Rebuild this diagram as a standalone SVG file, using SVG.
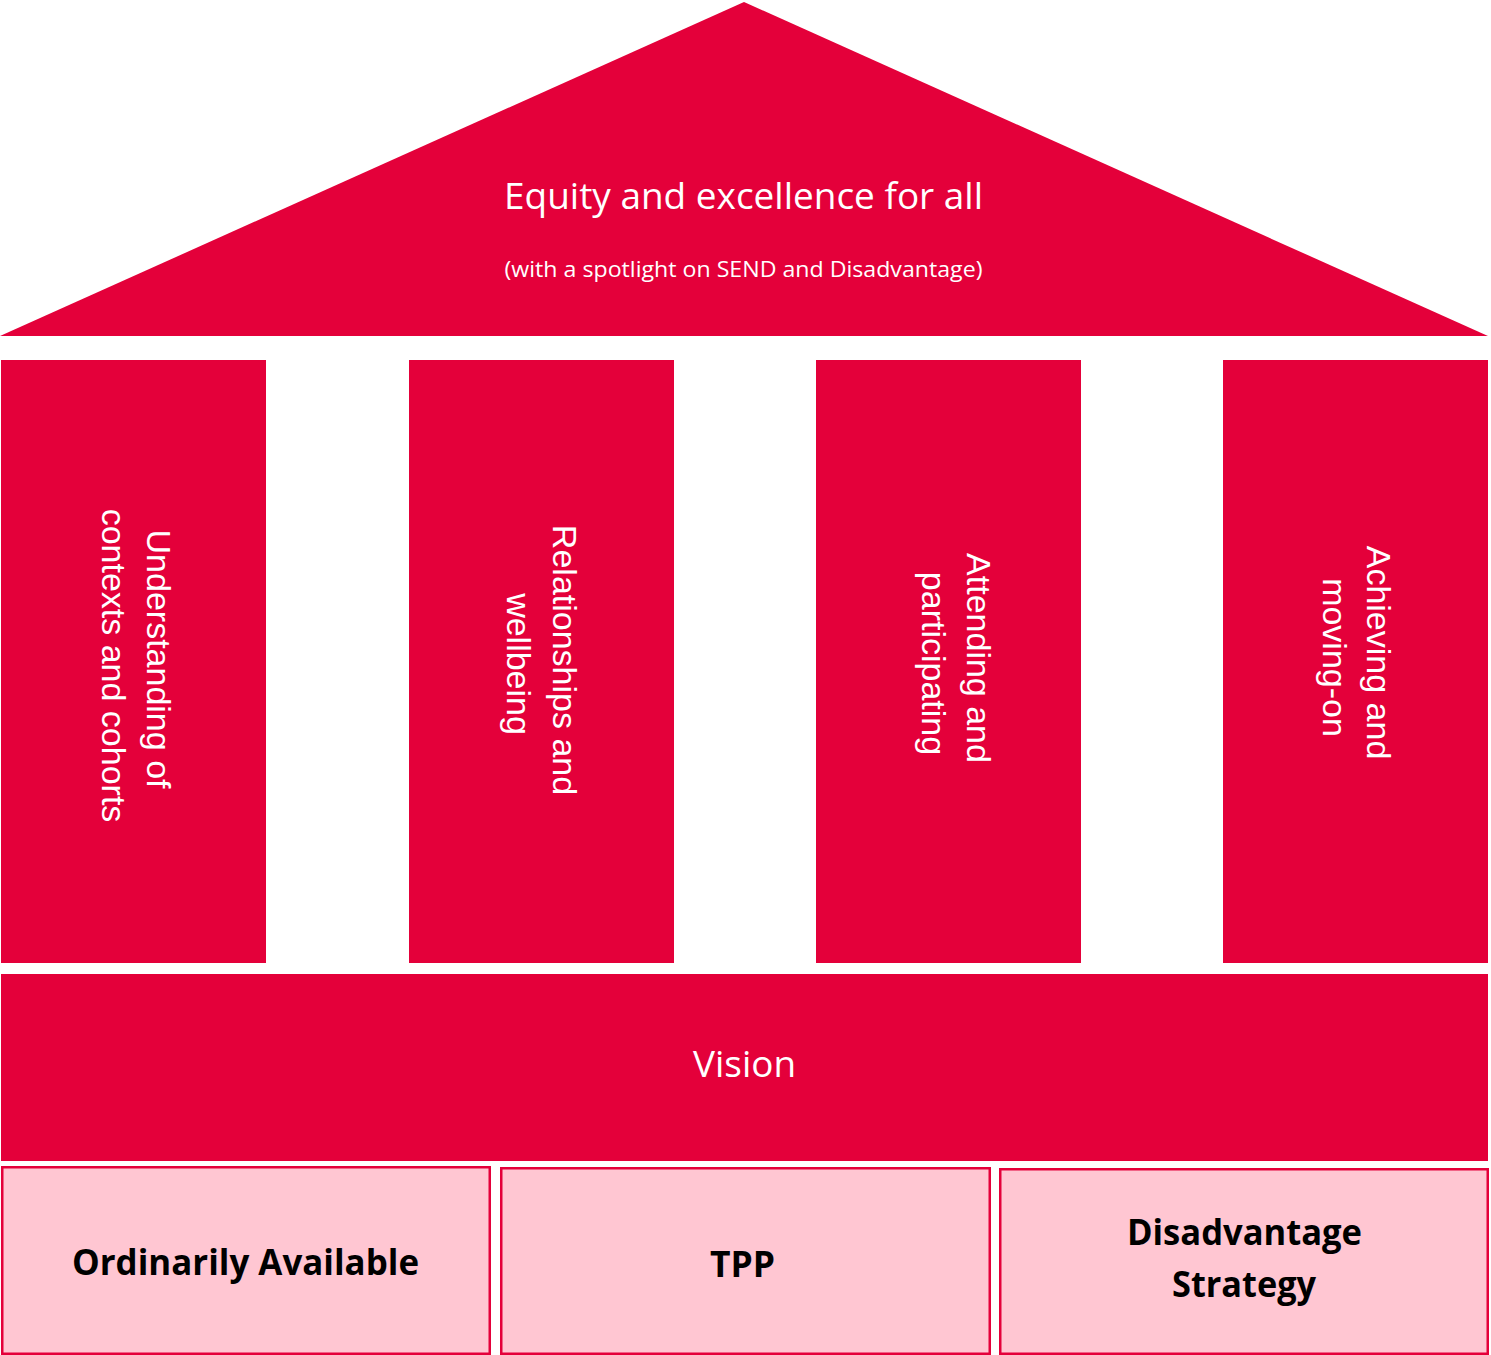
<svg xmlns="http://www.w3.org/2000/svg" width="1491" height="1355" viewBox="0 0 1491 1355">
<style>
.red{fill:#E4003A}
.box{fill:#FFC6D2;stroke:#E4003A;stroke-width:2.5}
.wt{fill:#FFFFFF;font-family:"Open Sans","Liberation Sans",sans-serif;text-anchor:middle}
.pt{fill:#FFFFFF;font-family:"Liberation Sans",Arial,sans-serif;font-size:34px;text-anchor:middle}
.bt{fill:#000000;font-family:"Open Sans","Liberation Sans",sans-serif;font-weight:bold;font-size:36px;text-anchor:middle}
</style>
<rect width="1491" height="1355" fill="#FFFFFF"/>
<g id="roof">
<polygon class="red" points="0,336 744,2 1488,336"/>
<text class="wt" x="743.5" y="209" font-size="36" textLength="479" lengthAdjust="spacingAndGlyphs">Equity and excellence for all</text>
<text class="wt" x="743.5" y="277" font-size="22" textLength="478" lengthAdjust="spacingAndGlyphs">(with a spotlight on SEND and Disadvantage)</text>
</g>
<g id="pillar1">
<rect class="red" x="1" y="360" width="265" height="603"/>
<text class="pt" transform="translate(147,659) rotate(90)">Understanding of</text>
<text class="pt" transform="translate(102,665.5) rotate(90)">contexts and cohorts</text>
</g>
<g id="pillar2">
<rect class="red" x="409" y="360" width="265" height="603"/>
<text class="pt" transform="translate(553,660) rotate(90)">Relationships and</text>
<text class="pt" transform="translate(507,664) rotate(90)">wellbeing</text>
</g>
<g id="pillar3">
<rect class="red" x="816" y="360" width="265" height="603"/>
<text class="pt" transform="translate(967,658) rotate(90)">Attending and</text>
<text class="pt" transform="translate(922,663.5) rotate(90)">participating</text>
</g>
<g id="pillar4">
<rect class="red" x="1223" y="360" width="265" height="603"/>
<text class="pt" transform="translate(1367,652.5) rotate(90)">Achieving and</text>
<text class="pt" transform="translate(1323,657.5) rotate(90)">moving-on</text>
</g>
<g id="vision">
<rect class="red" x="1" y="974" width="1487" height="187"/>
<text class="wt" x="744.5" y="1077" font-size="36" textLength="103" lengthAdjust="spacingAndGlyphs">Vision</text>
</g>
<g id="ordinarily-available">
<rect class="box" x="2.25" y="1167.25" width="487.5" height="186.5"/>
<text class="bt" x="245.5" y="1275" textLength="347" lengthAdjust="spacingAndGlyphs">Ordinarily Available</text>
</g>
<g id="tpp">
<rect class="box" x="501.25" y="1168.25" width="488.5" height="185.5"/>
<text class="bt" x="742.5" y="1277" textLength="65" lengthAdjust="spacingAndGlyphs">TPP</text>
</g>
<g id="disadvantage-strategy">
<rect class="box" x="1000.25" y="1169.25" width="487.5" height="184.5"/>
<text class="bt" x="1244.5" y="1245" textLength="235" lengthAdjust="spacingAndGlyphs">Disadvantage</text>
<text class="bt" x="1244" y="1297" textLength="144" lengthAdjust="spacingAndGlyphs">Strategy</text>
</g>
<g id="connectors"></g>
</svg>
